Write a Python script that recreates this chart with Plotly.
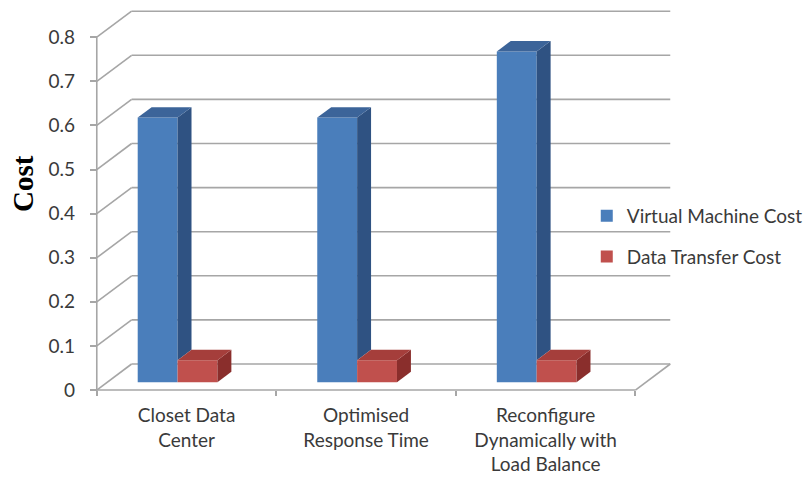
import plotly.graph_objects as go

# ---- data ----
categories = ["Closet Data<br>Center", "Optimised<br>Response Time",
              "Reconfigure<br>Dynamically with<br>Load Balance"]
vm_cost = [0.60, 0.60, 0.75]
transfer_cost = [0.05, 0.05, 0.05]
y_ticks = [0, 0.1, 0.2, 0.3, 0.4, 0.5, 0.6, 0.7, 0.8]
y_tick_labels = ["0", "0.1", "0.2", "0.3", "0.4", "0.5", "0.6", "0.7", "0.8"]
series_names = ["Virtual Machine Cost", "Data Transfer Cost"]

# ---- pseudo-3D geometry (in axis units) ----
X_RANGE = [-1.039, 3.45]
Y_RANGE = [-0.1995, 0.8844]
DX, DY = 0.194, 0.059          # full floor depth vector
D_FRONT, D_BAR = 0.3, 0.4      # bar front depth and bar thickness (fraction of depth)
BAR_W = 0.222
OFFSETS = [-0.272, -0.05]      # front-face left edge of each series, per category
WALL_LEFT, WALL_RIGHT = -0.5, 2.5
GRID = "#a6a6a6"
TXT = "#3a3a3a"
FONT = "Lato"

front_colors = ["#4a7ebb", "#c0504d"]
top_colors = ["#3c6499", "#a53e3b"]
side_colors = ["#2f5282", "#8a2e2c"]

fig = go.Figure()
shapes = []

# back wall grid lines with their diagonals on the side wall
for t in y_ticks:
    shapes.append(dict(type="line", xref="x", yref="y", x0=WALL_LEFT, y0=t,
                       x1=WALL_LEFT + DX, y1=t + DY, layer="below",
                       line=dict(color=GRID, width=1.6)))
    shapes.append(dict(type="line", xref="x", yref="y", x0=WALL_LEFT + DX, y0=t + DY,
                       x1=WALL_RIGHT + DX, y1=t + DY, layer="below",
                       line=dict(color=GRID, width=1.6)))
# floor front edge and right edge
shapes.append(dict(type="line", xref="x", yref="y", x0=WALL_LEFT, y0=0,
                   x1=WALL_RIGHT, y1=0, layer="below", line=dict(color=GRID, width=1.6)))
shapes.append(dict(type="line", xref="x", yref="y", x0=WALL_RIGHT, y0=0,
                   x1=WALL_RIGHT + DX, y1=DY, layer="below", line=dict(color=GRID, width=1.6)))
# vertical value axis line
shapes.append(dict(type="line", xref="x", yref="y", x0=WALL_LEFT, y0=0,
                   x1=WALL_LEFT, y1=y_ticks[-1], layer="below",
                   line=dict(color=GRID, width=1.6)))

base = D_FRONT * DY
ddx, ddy = D_BAR * DX, D_BAR * DY
xs = list(range(len(categories)))
series = [vm_cost, transfer_cost]

for s, vals in enumerate(series):
    # front faces
    fig.add_trace(go.Bar(
        x=xs, y=vals, base=[base] * len(vals), width=BAR_W,
        offset=OFFSETS[s], name=series_names[s],
        marker=dict(color=front_colors[s], line=dict(width=0)),
        legendgroup=series_names[s], showlegend=True,
    ))
    for i, v in enumerate(vals):
        left = i + OFFSETS[s]
        right = left + BAR_W
        top = base + v
        # side face (the part hidden behind the neighbouring bar is skipped)
        low = base
        if s == 0:
            low = base + series[1][i]
        fig.add_trace(go.Scatter(
            x=[right, right + ddx, right + ddx, right, right],
            y=[low, low + ddy, top + ddy, top, low],
            fill="toself", mode="lines", line=dict(width=0),
            fillcolor=side_colors[s], hoverinfo="skip",
            legendgroup=series_names[s], showlegend=False))
        # top face
        fig.add_trace(go.Scatter(
            x=[left, right, right + ddx, left + ddx, left],
            y=[top, top, top + ddy, top + ddy, top],
            fill="toself", mode="lines", line=dict(width=0),
            fillcolor=top_colors[s], hoverinfo="skip",
            legendgroup=series_names[s], showlegend=False))

px_x = (WALL_LEFT - X_RANGE[0]) / (X_RANGE[1] - X_RANGE[0])
px_y = (0 - Y_RANGE[0]) / (Y_RANGE[1] - Y_RANGE[0])

fig.update_layout(
    width=808, height=478,
    margin=dict(l=0, r=0, t=0, b=0),
    paper_bgcolor="white", plot_bgcolor="white",
    barmode="overlay",
    shapes=shapes,
    font=dict(family=FONT, size=19, color=TXT),
    xaxis=dict(range=X_RANGE, domain=[0, 1], anchor="free", position=px_y,
               tickvals=xs, ticktext=categories, ticks="", showgrid=False,
               zeroline=False, showline=False, ticklabelstandoff=12,
               tickfont=dict(family=FONT, size=19, color=TXT)),
    xaxis2=dict(range=X_RANGE, domain=[0, 1], overlaying="x", anchor="free",
                position=px_y, tickvals=[-0.5, 0.5, 1.5, 2.5], ticks="outside",
                ticklen=5, tickcolor=GRID, tickwidth=1.6, showticklabels=False,
                showgrid=False, zeroline=False, showline=False),
    yaxis=dict(range=Y_RANGE, domain=[0, 1], anchor="free", position=px_x,
               tickvals=y_ticks, ticktext=y_tick_labels, ticks="outside",
               ticklen=7, tickcolor=GRID, tickwidth=1.6, showgrid=False,
               zeroline=False, showline=False, ticklabelstandoff=11,
               tickfont=dict(family=FONT, size=19, color=TXT)),
    legend=dict(x=0.728, y=1 - 197 / 478, xanchor="left", yanchor="top",
                bgcolor="rgba(0,0,0,0)", tracegroupgap=13,
                font=dict(family=FONT, size=19, color=TXT)),
    annotations=[dict(text="<b>Cost</b>", textangle=-90, xref="paper", yref="paper",
                      x=23 / 808, y=1 - 183 / 478, xanchor="center", yanchor="middle",
                      showarrow=False,
                      font=dict(family="Liberation Serif", size=29, color="#000000"))],
)
# empty trace that activates the boundary-tick axis
fig.add_trace(go.Scatter(x=[None], y=[None], xaxis="x2", showlegend=False, hoverinfo="skip"))

fig.write_html("out.html")
